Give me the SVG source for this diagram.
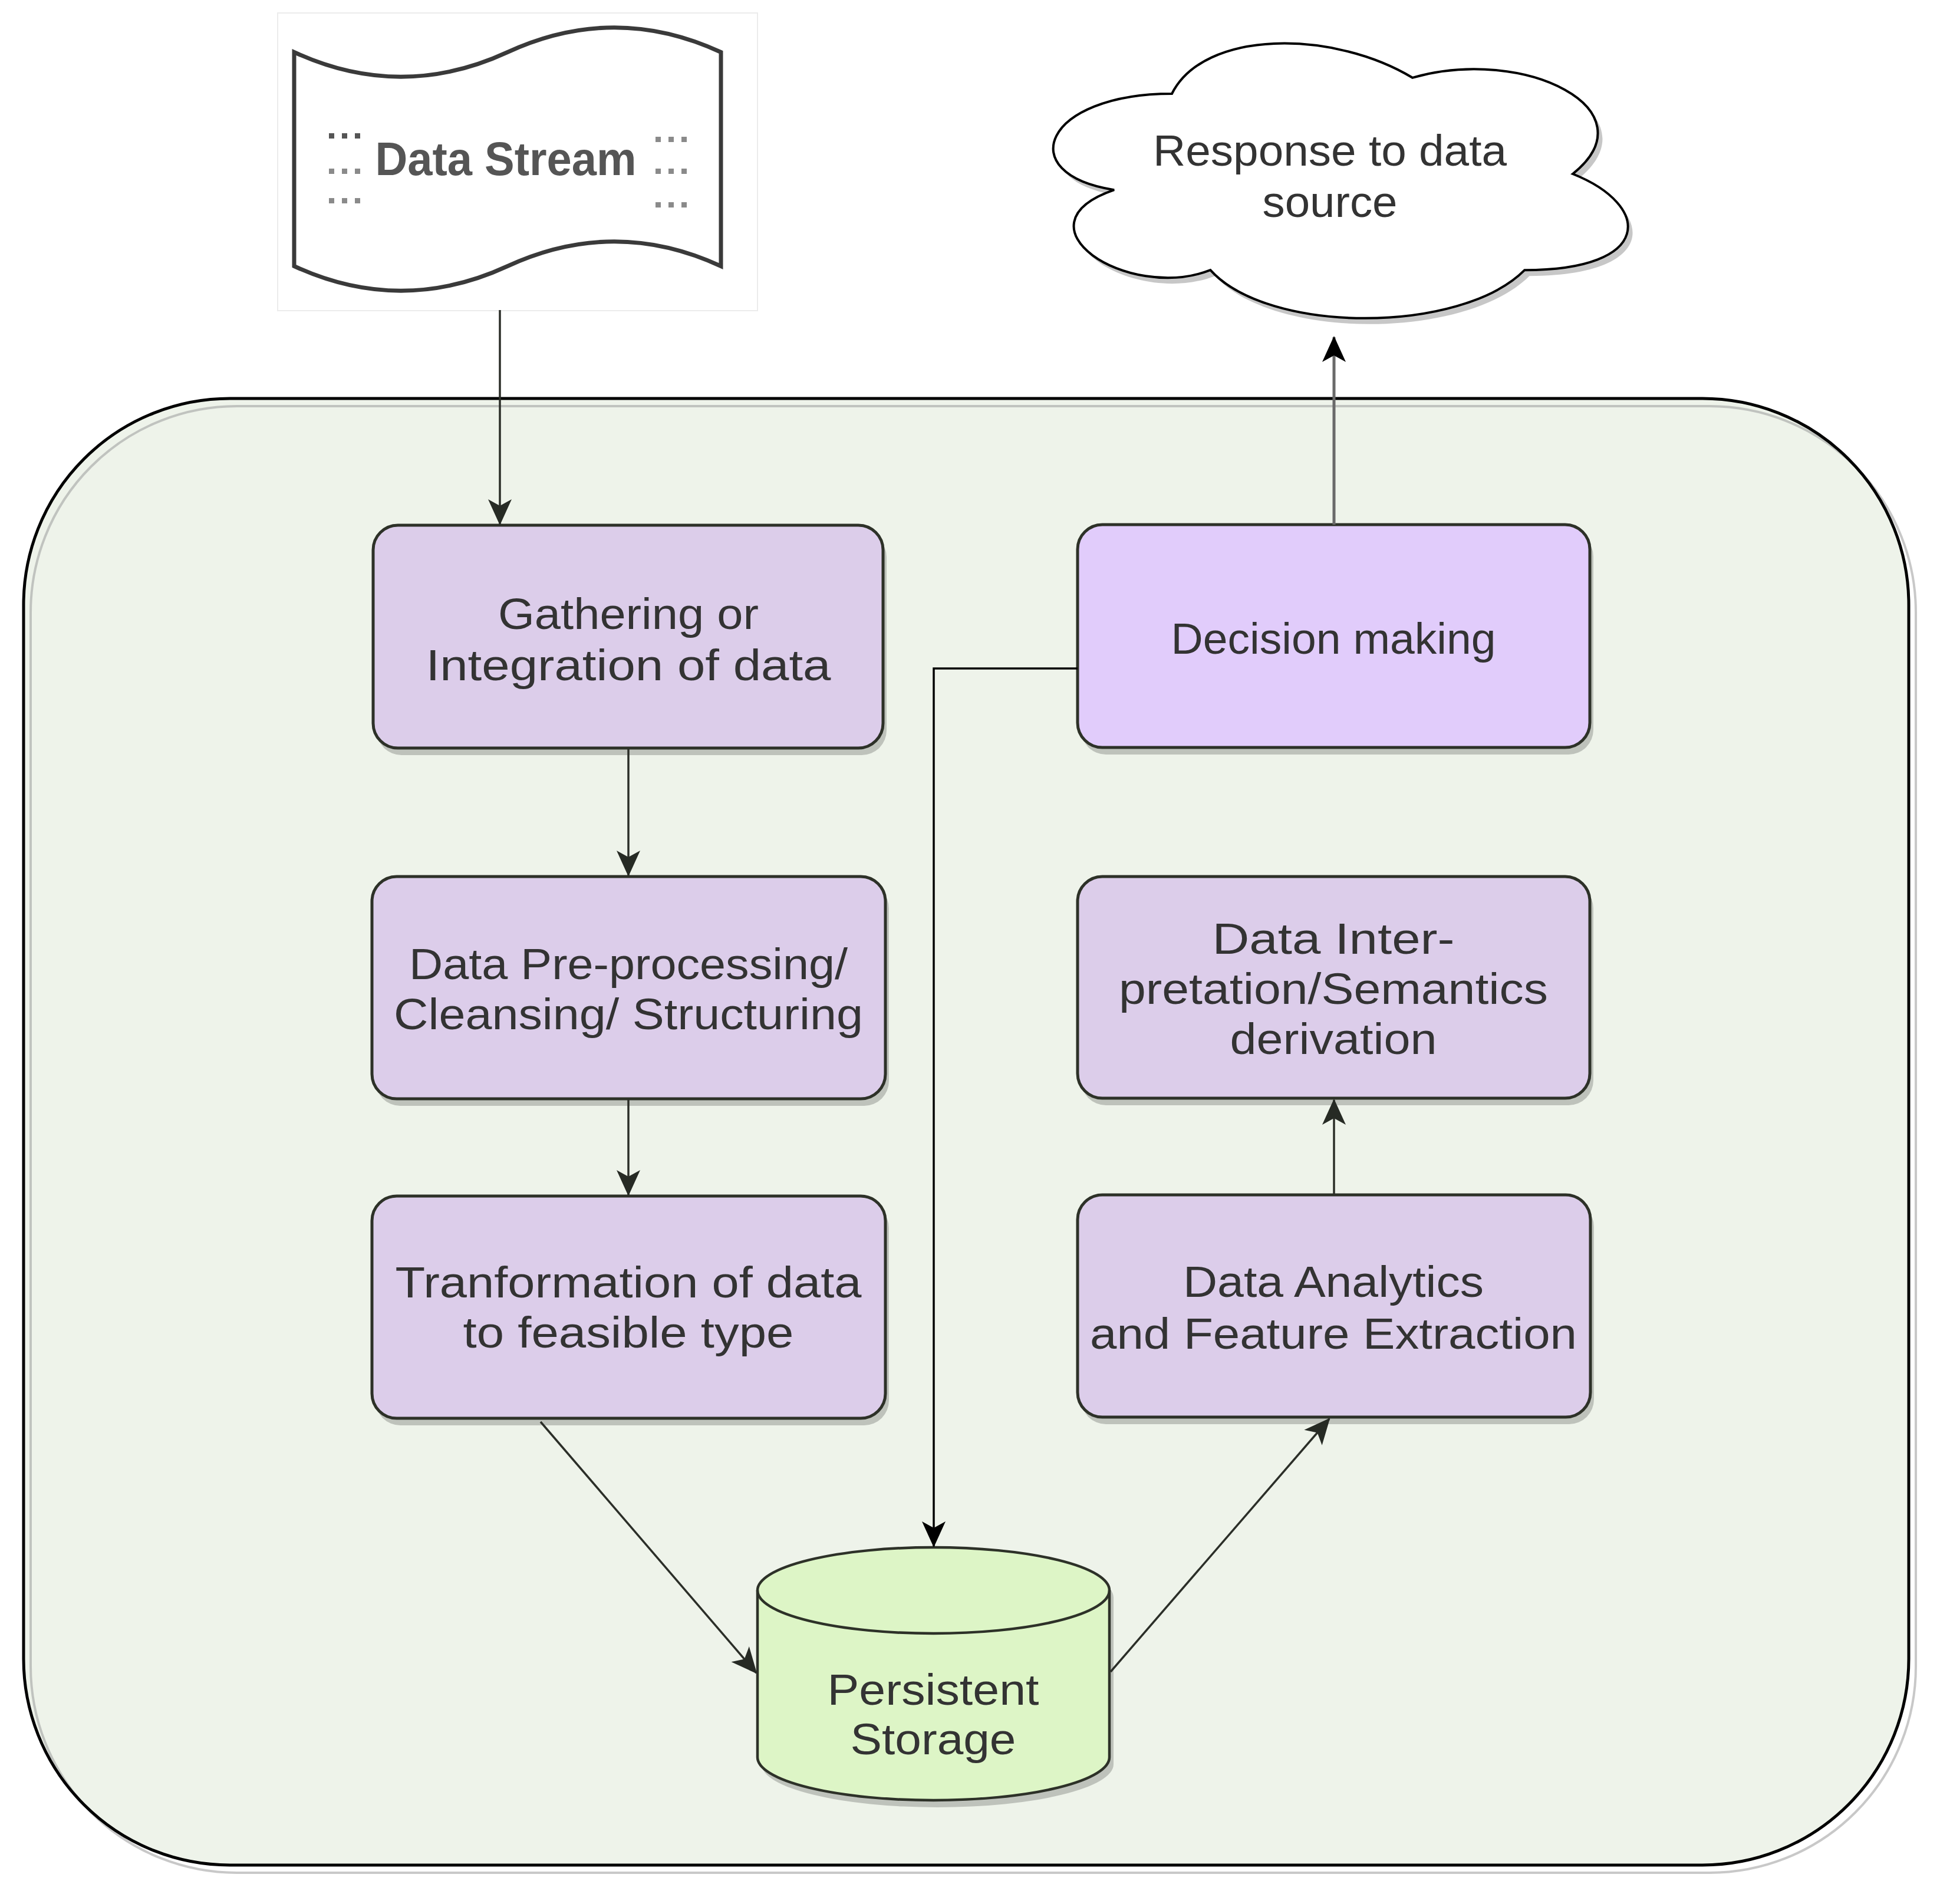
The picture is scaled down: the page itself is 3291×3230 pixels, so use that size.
<svg xmlns="http://www.w3.org/2000/svg" width="3291" height="3230" viewBox="0 0 3291 3230">
<style>
.lbl{font-family:"Liberation Sans","DejaVu Sans",sans-serif;font-size:74px;fill:#333;text-anchor:middle}
.box{fill:#dccdea;stroke:#2d3128;stroke-width:5}
.shd{fill:#000;fill-opacity:0.2}
.con{fill:none;stroke:#2b2e28;stroke-width:3.5}
.dot{fill:#8a8a8a}
</style>
<defs>
<marker id="arr" viewBox="0 0 44 44" markerWidth="44" markerHeight="44" refX="42" refY="22" orient="auto" markerUnits="userSpaceOnUse">
<path d="M0,2 L44,22 L0,42 L11,22 Z" fill="#262a24"/>
</marker>
<marker id="arrB" viewBox="0 0 44 44" markerWidth="44" markerHeight="44" refX="42" refY="22" orient="auto" markerUnits="userSpaceOnUse">
<path d="M0,2 L44,22 L0,42 L11,22 Z" fill="#000"/>
</marker>
</defs>
<rect width="3291" height="3230" fill="#fff"/>

<g id="container">
<rect x="40" y="676" width="3198" height="2488" rx="350" ry="350" fill="#eef3ea"/>
<rect x="52" y="689" width="3198" height="2488" rx="350" ry="350" fill="none" stroke="#9a9a9a" stroke-opacity="0.55" stroke-width="4"/>
<rect x="40" y="676" width="3198" height="2488" rx="350" ry="350" fill="none" stroke="#000" stroke-width="5"/>
</g>

<g id="data-stream">
<rect x="471" y="22" width="814" height="505" fill="none" stroke="#ececec" stroke-width="2"/>
<path d="M499,88.5 Q680,172 861,88.5 Q1042,5 1223,88.5 L1223,451.5 Q1042,368 861,451.5 Q680,535 499,451.5 Z" fill="#fff" stroke="#3a3a3a" stroke-width="7"/>
<g class="dot">
<rect x="558" y="226" width="9" height="9" fill="#555"/><rect x="580" y="226" width="9" height="9" fill="#555"/><rect x="602" y="226" width="9" height="9" fill="#555"/>
<rect x="558" y="286" width="9" height="9"/><rect x="580" y="286" width="9" height="9"/><rect x="602" y="286" width="9" height="9"/>
<rect x="558" y="336" width="9" height="9"/><rect x="580" y="336" width="9" height="9"/><rect x="602" y="336" width="9" height="9"/>
<rect x="1112" y="232" width="9" height="9"/><rect x="1134" y="232" width="9" height="9"/><rect x="1156" y="232" width="9" height="9"/>
<rect x="1112" y="286" width="9" height="9"/><rect x="1134" y="286" width="9" height="9"/><rect x="1156" y="286" width="9" height="9"/>
<rect x="1112" y="343" width="9" height="9"/><rect x="1134" y="343" width="9" height="9"/><rect x="1156" y="343" width="9" height="9"/>
</g>
<text x="858" y="297" font-family="Liberation Sans, DejaVu Sans, sans-serif" font-weight="bold" font-size="80" fill="#555" text-anchor="middle" textLength="443" lengthAdjust="spacingAndGlyphs">Data Stream</text>
</g>

<g id="response-cloud">
<path transform="translate(8,10)" d="M1988,159 C1770.4,159 1716,295 1890.1,322.2 C1716,382 1911.8,512.6 2053.3,458.2 C2151.2,567 2477.6,567 2586.4,458.2 C2804,458.2 2804,349.4 2668,295 C2804,186.2 2586.4,77.4 2396,131.8 C2260,50.2 2042.4,50.2 1988,159 Z" fill="#000" fill-opacity="0.22"/>
<path d="M1988,159 C1770.4,159 1716,295 1890.1,322.2 C1716,382 1911.8,512.6 2053.3,458.2 C2151.2,567 2477.6,567 2586.4,458.2 C2804,458.2 2804,349.4 2668,295 C2804,186.2 2586.4,77.4 2396,131.8 C2260,50.2 2042.4,50.2 1988,159 Z" fill="#fff" stroke="#000" stroke-width="4"/>
<text class="lbl" x="2256" y="281" textLength="600" lengthAdjust="spacingAndGlyphs">Response to data</text>
<text class="lbl" x="2256" y="368" textLength="229" lengthAdjust="spacingAndGlyphs">source</text>
</g>

<g id="gathering">
<rect class="shd" x="639" y="903" width="865" height="378" rx="42"/>
<rect class="box" x="633" y="891" width="865" height="378" rx="42"/>
<text class="lbl" x="1066" y="1067" textLength="442" lengthAdjust="spacingAndGlyphs">Gathering or</text>
<text class="lbl" x="1066" y="1154" textLength="687" lengthAdjust="spacingAndGlyphs">Integration of data</text>
</g>

<g id="preprocessing">
<rect class="shd" x="637" y="1499" width="871" height="377" rx="42"/>
<rect class="box" x="631" y="1487" width="871" height="377" rx="42"/>
<text class="lbl" x="1066" y="1661" textLength="744" lengthAdjust="spacingAndGlyphs">Data Pre-processing/</text>
<text class="lbl" x="1066" y="1746" textLength="796" lengthAdjust="spacingAndGlyphs">Cleansing/ Structuring</text>
</g>

<g id="transformation">
<rect class="shd" x="637" y="2041" width="871" height="377" rx="42"/>
<rect class="box" x="631" y="2029" width="871" height="377" rx="42"/>
<text class="lbl" x="1066" y="2201" textLength="791" lengthAdjust="spacingAndGlyphs">Tranformation of data</text>
<text class="lbl" x="1066" y="2286" textLength="561" lengthAdjust="spacingAndGlyphs">to feasible type</text>
</g>

<g id="decision">
<rect class="shd" x="1834" y="902" width="869" height="378" rx="42"/>
<rect class="box" x="1828" y="890" width="869" height="378" rx="42" style="fill:#e1ccfb"/>
<text class="lbl" x="2262" y="1109" textLength="551" lengthAdjust="spacingAndGlyphs">Decision making</text>
</g>

<g id="interpretation">
<rect class="shd" x="1834" y="1499" width="869" height="376" rx="42"/>
<rect class="box" x="1828" y="1487" width="869" height="376" rx="42"/>
<text class="lbl" x="2262" y="1618" textLength="411" lengthAdjust="spacingAndGlyphs">Data Inter-</text>
<text class="lbl" x="2262" y="1703" textLength="728" lengthAdjust="spacingAndGlyphs">pretation/Semantics</text>
<text class="lbl" x="2262" y="1788" textLength="351" lengthAdjust="spacingAndGlyphs">derivation</text>
</g>

<g id="analytics">
<rect class="shd" x="1834" y="2039" width="870" height="377" rx="42"/>
<rect class="box" x="1828" y="2027" width="870" height="377" rx="42"/>
<text class="lbl" x="2262" y="2200" textLength="510" lengthAdjust="spacingAndGlyphs">Data Analytics</text>
<text class="lbl" x="2262" y="2288" textLength="826" lengthAdjust="spacingAndGlyphs">and Feature Extraction</text>
</g>

<g id="storage">
<path transform="translate(7,12)" d="M1285,2698 A298.5,73 0 0 1 1882,2698 L1882,2981 A298.5,73 0 0 1 1285,2981 Z" fill="#000" fill-opacity="0.2"/>
<path d="M1285,2698 A298.5,73 0 0 1 1882,2698 L1882,2981 A298.5,73 0 0 1 1285,2981 Z" fill="#ddf5c6" stroke="#2d3128" stroke-width="4.5"/>
<path d="M1285,2698 A298.5,73 0 0 0 1882,2698" fill="none" stroke="#2d3128" stroke-width="4.5"/>
<text class="lbl" x="1583" y="2892" textLength="359" lengthAdjust="spacingAndGlyphs">Persistent</text>
<text class="lbl" x="1583" y="2976" textLength="281" lengthAdjust="spacingAndGlyphs">Storage</text>
</g>

<g id="connectors">
<path class="con" d="M848,526 L848,889" marker-end="url(#arr)"/>
<path class="con" d="M1066,1269 L1066,1485" marker-end="url(#arr)"/>
<path class="con" d="M1066,1864 L1066,2027" marker-end="url(#arr)"/>
<path class="con" d="M917,2412 L1283,2838" marker-end="url(#arr)"/>
<path class="con" d="M1884,2836 L2255,2407" marker-end="url(#arr)"/>
<path class="con" d="M2263,2027 L2263,1866" marker-end="url(#arr)"/>
<path class="con" d="M1828,1134 L1584,1134 L1584,2623" stroke="#000" style="stroke:#000" marker-end="url(#arrB)"/>
<path class="con" d="M2263,890 L2263,572" style="stroke:#6a6a6a;stroke-width:5" marker-end="url(#arrB)"/>
</g>
</svg>
